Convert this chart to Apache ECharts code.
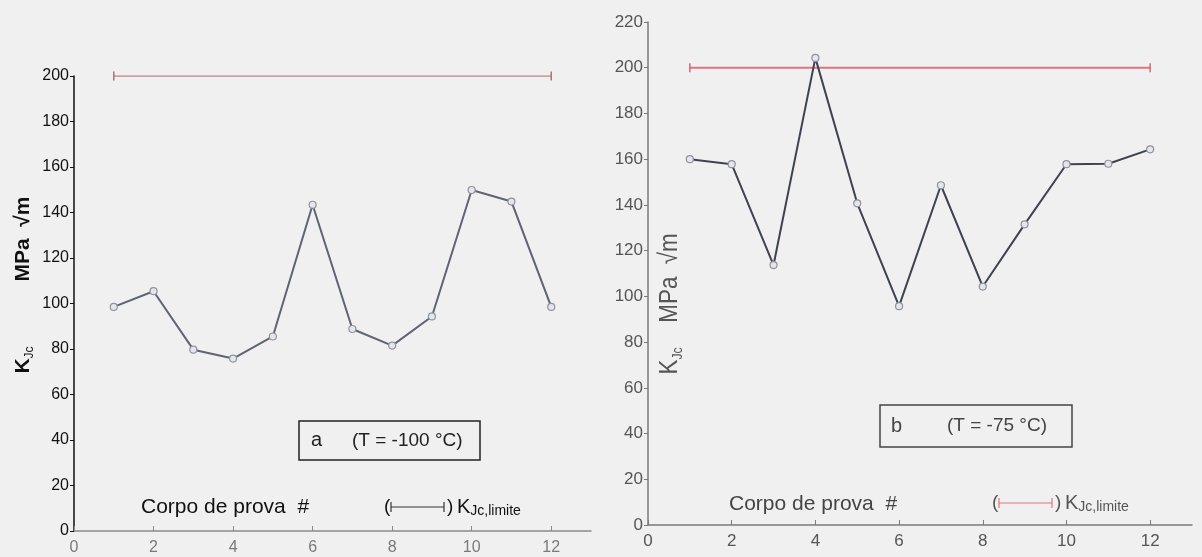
<!DOCTYPE html>
<html>
<head>
<meta charset="utf-8">
<script src="https://cdn.jsdelivr.net/npm/echarts@6/dist/echarts.min.js"></script>
<style>
html,body{margin:0;padding:0;background:#f0f0f0;}
#chart{width:1202px;height:557px;}
</style>
</head>
<body>
<div id="chart"></div>
<script>
// ---- data ----
const specimens = [1, 2, 3, 4, 5, 6, 7, 8, 9, 10, 11, 12];
const kjcA = [98.5, 105.4, 79.7, 75.8, 85.5, 143.4, 88.8, 81.5, 94.3, 149.9, 144.8, 98.5];   // T = -100 °C
const kjcB = [160, 157.8, 113.7, 204.3, 140.7, 95.7, 148.6, 104.3, 131.5, 157.8, 158, 164.3]; // T = -75 °C
const kjcLimit = 200;
const xTickValues = [0, 2, 4, 6, 8, 10, 12];
const yMaxA = 200;
const yMaxB = 220;
const panelTitleA = ['a', '(T = -100 °C)'];
const panelTitleB = ['b', '(T = -75 °C)'];
const xName = 'Corpo de prova  #';
const yUnit = 'MPa  √m';

const FONT = '"Liberation Sans", Arial, sans-serif';

const chart = echarts.init(document.getElementById('chart'), null, {renderer: 'canvas'});

function limitData() {
  return [[specimens[0], kjcLimit], [specimens[specimens.length - 1], kjcLimit]];
}
function pts(vals) { return specimens.map((s, i) => [s, vals[i]]); }

function xAxisCfg(gi, lineColor, labelColor, size, margin) {
  return {
    type: 'value', gridIndex: gi, min: 0, max: 13,
    axisLine: {show: true, onZero: false, lineStyle: {color: lineColor, width: 1.5}},
    axisTick: {show: true, inside: true, length: 5, customValues: xTickValues, lineStyle: {color: lineColor}},
    axisLabel: {customValues: xTickValues, color: labelColor, fontFamily: FONT, fontSize: size, margin: margin},
    splitLine: {show: false}
  };
}
function yAxisCfg(gi, max, lineColor, labelColor, size) {
  return {
    type: 'value', gridIndex: gi, min: 0, max: max, interval: 20,
    axisLine: {show: true, onZero: false, lineStyle: {color: lineColor, width: 1.5}},
    axisTick: {show: true, inside: false, length: 4, lineStyle: {color: lineColor}},
    axisLabel: {color: labelColor, fontFamily: FONT, fontSize: size, margin: 5},
    splitLine: {show: false}
  };
}

function rotText(x, y, text, rich, color, sx) {
  return {
    type: 'text', x: x, y: y, rotation: Math.PI / 2, scaleX: sx || 1,
    style: {text: text, align: 'center', verticalAlign: 'middle', fill: color, rich: rich}
  };
}
function yLabel(x, yUnitC, yKC, color, size, weight, subSize, sx) {
  const rich = {
    k: {fontFamily: FONT, fontSize: size, fontWeight: weight, fill: color, lineHeight: size + 4},
    s: {fontFamily: FONT, fontSize: subSize, fill: color, verticalAlign: 'bottom', lineHeight: subSize},
    m: {fontFamily: FONT, fontSize: size, fontWeight: weight, fill: color, lineHeight: size + 4}
  };
  return [
    rotText(x, yUnitC, '{m|' + yUnit + '}', rich, color, sx),
    rotText(x, yKC, '{k|K}{s|Jc}', rich, color, sx)
  ];
}

function box(x, y, w, h, title, tx1, tx2, color) {
  return [
    {type: 'rect', shape: {x: x, y: y, width: w, height: h}, style: {fill: 'none', stroke: color, lineWidth: 1.5}},
    {type: 'text', x: tx1, y: y + h / 2, style: {text: title[0], fontFamily: FONT, fontSize: 20, fill: color, verticalAlign: 'middle'}},
    {type: 'text', x: tx2, y: y + h / 2, style: {text: title[1], fontFamily: FONT, fontSize: 19, fill: color, verticalAlign: 'middle'}}
  ];
}

function legendItem(x, y, lineColor, textColor) {
  return [
    {type: 'text', x: x, y: y, style: {text: '(', fontFamily: FONT, fontSize: 19, fill: textColor, verticalAlign: 'middle'}},
    {type: 'line', shape: {x1: x + 7, y1: y, x2: x + 60, y2: y}, style: {stroke: lineColor, lineWidth: 1.2}},
    {type: 'line', shape: {x1: x + 7, y1: y - 5, x2: x + 7, y2: y + 5}, style: {stroke: lineColor, lineWidth: 1.2}},
    {type: 'line', shape: {x1: x + 60, y1: y - 5, x2: x + 60, y2: y + 5}, style: {stroke: lineColor, lineWidth: 1.2}},
    {type: 'text', x: x + 63, y: y, style: {text: ')', fontFamily: FONT, fontSize: 19, fill: textColor, verticalAlign: 'middle'}},
    {type: 'text', x: x + 73, y: y, style: {
      text: '{k|K}{s|Jc,limite}', verticalAlign: 'middle', fill: textColor,
      rich: {
        k: {fontFamily: FONT, fontSize: 20, fill: textColor, lineHeight: 22},
        s: {fontFamily: FONT, fontSize: 14, fill: textColor, verticalAlign: 'bottom', lineHeight: 12}
      }
    }}
  ];
}

const option = {
  backgroundColor: '#f0f0f0',
  animation: false,
  grid: [
    {left: 74, top: 76, width: 517, height: 455, containLabel: false},
    {left: 648, top: 22, width: 544, height: 503, containLabel: false}
  ],
  xAxis: [xAxisCfg(0, '#8a8a8a', '#7a7a7a', 16, 9), xAxisCfg(1, '#7a7a7a', '#555', 17, 8)],
  yAxis: [yAxisCfg(0, yMaxA, '#111', '#111', 16), yAxisCfg(1, yMaxB, '#7a7a7a', '#555', 17)],
  series: [
    {type: 'line', xAxisIndex: 0, yAxisIndex: 0, data: limitData(), symbol: 'rect', symbolSize: [1.5, 9],
     lineStyle: {color: '#c9848e', width: 1.5}, itemStyle: {color: '#b07078'}, z: 2},
    {type: 'line', xAxisIndex: 0, yAxisIndex: 0, data: pts(kjcA), symbol: 'circle', symbolSize: 7,
     lineStyle: {color: '#5d6472', width: 2}, itemStyle: {color: '#e4e6ea', borderColor: '#8d939e', borderWidth: 1.2}, z: 3},
    {type: 'line', xAxisIndex: 1, yAxisIndex: 1, data: limitData(), symbol: 'rect', symbolSize: [1.5, 9],
     lineStyle: {color: '#e07482', width: 1.8}, itemStyle: {color: '#d86474'}, z: 2},
    {type: 'line', xAxisIndex: 1, yAxisIndex: 1, data: pts(kjcB), symbol: 'circle', symbolSize: 7,
     lineStyle: {color: '#3e4350', width: 2}, itemStyle: {color: '#e4e6ea', borderColor: '#8d939e', borderWidth: 1.2}, z: 3}
  ],
  graphic: [
    ...yLabel(23, 239, 360, '#111', 21, 'bold', 12, 1),
    ...yLabel(670, 278, 361, '#555', 26, 'normal', 14, 0.86),
    ...box(299, 421, 181, 39, panelTitleA, 311, 352, '#222'),
    ...box(880, 405, 192, 42, panelTitleB, 891, 947, '#444'),
    {type: 'text', x: 141, y: 507, style: {text: xName, fontFamily: FONT, fontSize: 21, fill: '#111', verticalAlign: 'middle'}},
    {type: 'text', x: 729, y: 504, style: {text: xName, fontFamily: FONT, fontSize: 21, fill: '#444', verticalAlign: 'middle'}},
    ...legendItem(384, 507, '#333', '#111'),
    ...legendItem(992, 503, '#e07482', '#555')
  ]
};
chart.setOption(option);
</script>
</body>
</html>
